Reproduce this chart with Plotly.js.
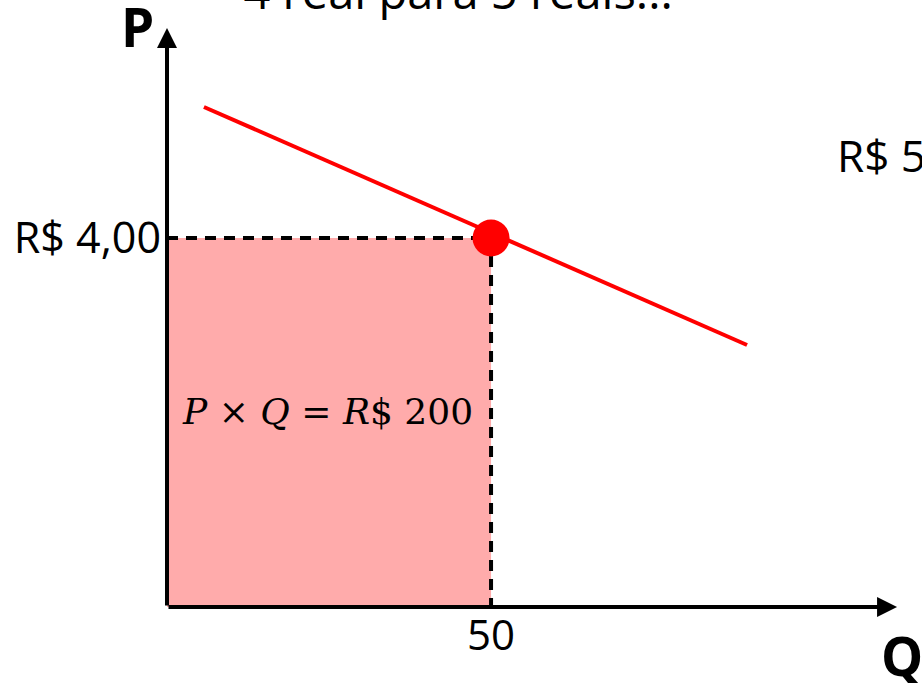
<!DOCTYPE html>
<html>
<head>
<meta charset="utf-8">
<script src="https://cdn.plot.ly/plotly-3.0.1.min.js"></script>
<style>html,body{margin:0;padding:0;background:#fff;overflow:hidden}#chart{width:922px;height:683px}</style>
</head>
<body>
<div id="chart"></div>
<script>
// Data
const demandQ = [5.7, 89.5];
const demandP = [5.42, 2.84];
const pointQ = [50];
const pointP = [4];
const areaQ = [0, 50];
const areaP = [4, 4];
const guideQ = [0, 50, 50];
const guideP = [4, 4, 0];
const xTickVals = [50];
const xTickText = ['50'];
const yTickVals = [4];
const yTickText = ['R$ 4,00'];
const xMax = 113.1;
const yMax = 6.276;

const font = 'Open Sans, sans-serif';

const traces = [
  {x: areaQ, y: areaP, type: 'scatter', mode: 'lines', fill: 'tozeroy',
   fillcolor: '#FFABAB', line: {width: 0, color: '#FFABAB'}, hoverinfo: 'skip'},
  {x: guideQ, y: guideP, type: 'scatter', mode: 'lines',
   line: {color: '#000', width: 4, dash: '11px,8px'}, hoverinfo: 'skip'},
  {x: demandQ, y: demandP, type: 'scatter', mode: 'lines',
   line: {color: '#FF0000', width: 4}},
  {x: pointQ, y: pointP, type: 'scatter', mode: 'markers',
   marker: {color: '#FF0000', size: 37}}
];

const layout = {
  width: 922, height: 683,
  margin: {l: 167, r: 22, t: 28, b: 76},
  paper_bgcolor: '#fff', plot_bgcolor: '#fff',
  showlegend: false,
  title: {text: '4 real para 5 reais...', font: {family: font, size: 47, color: '#000'},
          x: 0.497, xanchor: 'center', y: 0.987, yanchor: 'bottom'},
  xaxis: {range: [0, xMax], showgrid: false, zeroline: false, showline: false,
          tickvals: xTickVals, ticktext: xTickText, ticks: '',
          tickfont: {family: font, size: 42, color: '#000'}, fixedrange: true},
  yaxis: {range: [0, yMax], showgrid: false, zeroline: false, showline: false,
          tickvals: yTickVals, ticktext: yTickText, ticks: '', ticklabelstandoff: 5,
          tickfont: {family: font, size: 43, color: '#000'}, fixedrange: true},
  annotations: [
    {x: xMax * 0.996, y: 0, ax: 0, ay: 0, xref: 'x', yref: 'y', axref: 'x', ayref: 'y',
     text: '', showarrow: true, arrowhead: 2, arrowsize: 1, arrowwidth: 4, arrowcolor: '#000'},
    {x: 0, y: yMax, ax: 0, ay: 0, xref: 'x', yref: 'y', axref: 'x', ayref: 'y',
     text: '', showarrow: true, arrowhead: 2, arrowsize: 1, arrowwidth: 4, arrowcolor: '#000'},
    {x: -0.04, y: 1.003, xref: 'paper', yref: 'paper', text: '<b>P</b>', showarrow: false,
     xanchor: 'center', yanchor: 'middle', font: {family: font, size: 53, color: '#000'}},
    {x: 0.971, y: -0.018, xref: 'paper', yref: 'paper', text: '<b>Q</b>', showarrow: false,
     xanchor: 'left', yanchor: 'top', font: {family: font, size: 53, color: '#000'}},
    {x: 0.912, y: 0.78, xref: 'paper', yref: 'paper', text: 'R$ 5', showarrow: false,
     xanchor: 'left', yanchor: 'middle', font: {family: font, size: 44, color: '#000'}},
    {x: 0.2185, y: 0.337, xref: 'paper', yref: 'paper',
     text: '<i>P</i> × <i>Q</i> = <i>R</i>$ 200', showarrow: false,
     xanchor: 'center', yanchor: 'middle',
     font: {family: 'DejaVu Serif, serif', size: 36, color: '#000'}}
  ]
};

Plotly.newPlot('chart', traces, layout, {displayModeBar: false, staticPlot: true});
</script>
</body>
</html>
